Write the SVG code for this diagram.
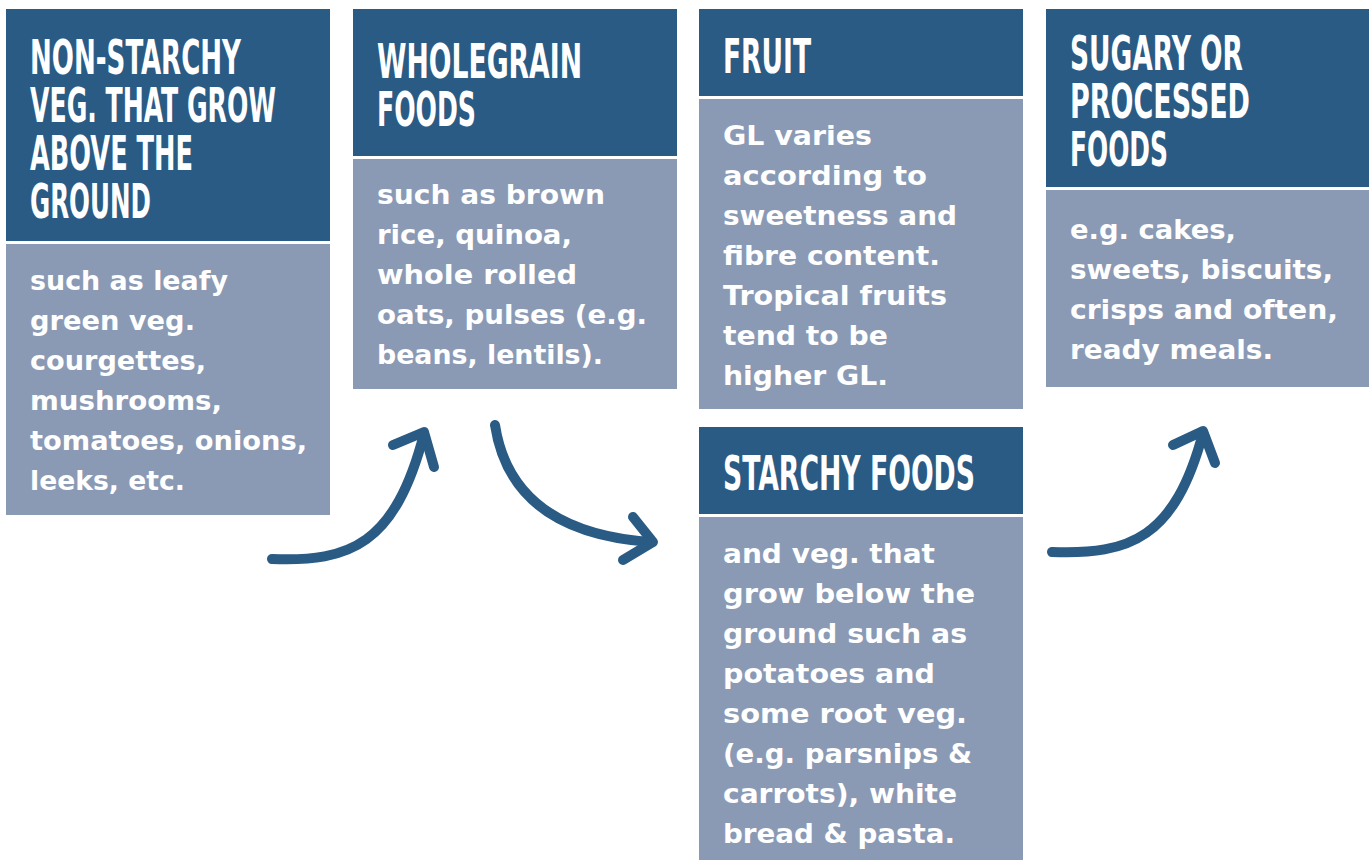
<svg xmlns="http://www.w3.org/2000/svg" width="1371" height="860" viewBox="0 0 1371 860">
<style>
.hd{fill:#2a5b84}
.bd{fill:#8a9ab5}
.ht{font-family:"Liberation Sans Narrow","DejaVu Sans Condensed","Roboto",sans-serif;font-weight:700;font-size:48px;fill:#fff}
.bt{font-family:"DejaVu Sans","Noto Sans",sans-serif;font-weight:700;font-size:26px;fill:#fff}
.ar{fill:none;stroke:#2a5b84;stroke-width:10;stroke-linecap:round;stroke-linejoin:round}
</style>
<rect width="1371" height="860" fill="#fff"/>
<g id="node-nonstarchy">
<rect class="hd" x="6" y="9" width="324" height="232"/>
<rect class="bd" x="6" y="244" width="324" height="271"/>
<text class="ht" x="30" y="74" textLength="211" lengthAdjust="spacingAndGlyphs">NON-STARCHY</text>
<text class="ht" x="30" y="122" textLength="246" lengthAdjust="spacingAndGlyphs">VEG. THAT GROW</text>
<text class="ht" x="30" y="170" textLength="163" lengthAdjust="spacingAndGlyphs">ABOVE THE</text>
<text class="ht" x="30" y="218" textLength="121" lengthAdjust="spacingAndGlyphs">GROUND</text>
<text class="bt" x="30" y="290" textLength="198" lengthAdjust="spacingAndGlyphs">such as leafy</text>
<text class="bt" x="30" y="330" textLength="165" lengthAdjust="spacingAndGlyphs">green veg.</text>
<text class="bt" x="30" y="370" textLength="176" lengthAdjust="spacingAndGlyphs">courgettes,</text>
<text class="bt" x="30" y="410" textLength="192" lengthAdjust="spacingAndGlyphs">mushrooms,</text>
<text class="bt" x="30" y="450" textLength="277" lengthAdjust="spacingAndGlyphs">tomatoes, onions,</text>
<text class="bt" x="30" y="490" textLength="155" lengthAdjust="spacingAndGlyphs">leeks, etc.</text>
</g>
<g id="node-wholegrain">
<rect class="hd" x="353" y="9" width="324" height="147"/>
<rect class="bd" x="353" y="159" width="324" height="230"/>
<text class="ht" x="377" y="78" textLength="205" lengthAdjust="spacingAndGlyphs">WHOLEGRAIN</text>
<text class="ht" x="377" y="126" textLength="99" lengthAdjust="spacingAndGlyphs">FOODS</text>
<text class="bt" x="377" y="204" textLength="228" lengthAdjust="spacingAndGlyphs">such as brown</text>
<text class="bt" x="377" y="244" textLength="195" lengthAdjust="spacingAndGlyphs">rice, quinoa,</text>
<text class="bt" x="377" y="284" textLength="200" lengthAdjust="spacingAndGlyphs">whole rolled</text>
<text class="bt" x="377" y="324" textLength="270" lengthAdjust="spacingAndGlyphs">oats, pulses (e.g.</text>
<text class="bt" x="377" y="364" textLength="226" lengthAdjust="spacingAndGlyphs">beans, lentils).</text>
</g>
<g id="node-fruit">
<rect class="hd" x="699" y="9" width="324" height="87"/>
<rect class="bd" x="699" y="99" width="324" height="310"/>
<text class="ht" x="723" y="73" textLength="88" lengthAdjust="spacingAndGlyphs">FRUIT</text>
<text class="bt" x="723" y="145" textLength="149" lengthAdjust="spacingAndGlyphs">GL varies</text>
<text class="bt" x="723" y="185" textLength="204" lengthAdjust="spacingAndGlyphs">according to</text>
<text class="bt" x="723" y="225" textLength="234" lengthAdjust="spacingAndGlyphs">sweetness and</text>
<text class="bt" x="723" y="265" textLength="217" lengthAdjust="spacingAndGlyphs">fibre content.</text>
<text class="bt" x="723" y="305" textLength="224" lengthAdjust="spacingAndGlyphs">Tropical fruits</text>
<text class="bt" x="723" y="345" textLength="165" lengthAdjust="spacingAndGlyphs">tend to be</text>
<text class="bt" x="723" y="385" textLength="165" lengthAdjust="spacingAndGlyphs">higher GL.</text>
</g>
<g id="node-starchy">
<rect class="hd" x="699" y="427" width="324" height="87"/>
<rect class="bd" x="699" y="517" width="324" height="343"/>
<text class="ht" x="723" y="490" textLength="252" lengthAdjust="spacingAndGlyphs">STARCHY FOODS</text>
<text class="bt" x="723" y="563" textLength="212" lengthAdjust="spacingAndGlyphs">and veg. that</text>
<text class="bt" x="723" y="603" textLength="252" lengthAdjust="spacingAndGlyphs">grow below the</text>
<text class="bt" x="723" y="643" textLength="244" lengthAdjust="spacingAndGlyphs">ground such as</text>
<text class="bt" x="723" y="683" textLength="212" lengthAdjust="spacingAndGlyphs">potatoes and</text>
<text class="bt" x="723" y="723" textLength="244" lengthAdjust="spacingAndGlyphs">some root veg.</text>
<text class="bt" x="723" y="763" textLength="249" lengthAdjust="spacingAndGlyphs">(e.g. parsnips &amp;</text>
<text class="bt" x="723" y="803" textLength="234" lengthAdjust="spacingAndGlyphs">carrots), white</text>
<text class="bt" x="723" y="843" textLength="232" lengthAdjust="spacingAndGlyphs">bread &amp; pasta.</text>
</g>
<g id="node-sugary">
<rect class="hd" x="1046" y="9" width="323" height="178"/>
<rect class="bd" x="1046" y="190" width="323" height="197"/>
<text class="ht" x="1070" y="70" textLength="173" lengthAdjust="spacingAndGlyphs">SUGARY OR</text>
<text class="ht" x="1070" y="118" textLength="180" lengthAdjust="spacingAndGlyphs">PROCESSED</text>
<text class="ht" x="1070" y="166" textLength="98" lengthAdjust="spacingAndGlyphs">FOODS</text>
<text class="bt" x="1070" y="239" textLength="166" lengthAdjust="spacingAndGlyphs">e.g. cakes,</text>
<text class="bt" x="1070" y="279" textLength="263" lengthAdjust="spacingAndGlyphs">sweets, biscuits,</text>
<text class="bt" x="1070" y="319" textLength="268" lengthAdjust="spacingAndGlyphs">crisps and often,</text>
<text class="bt" x="1070" y="359" textLength="203" lengthAdjust="spacingAndGlyphs">ready meals.</text>
</g>
<g id="connectors">
<path class="ar" d="M272,559 C350,562 395,545 424,434"/>
<polyline class="ar" points="393,445 424,432 434,467"/>
<path class="ar" d="M495,425 C505,490 550,535 651,542"/>
<polyline class="ar" points="633,517 653,542 623,560"/>
<path class="ar" d="M1052,552 C1130,555 1175,538 1203,433"/>
<polyline class="ar" points="1173,445 1203,431 1215,463"/>
</g>
</svg>
